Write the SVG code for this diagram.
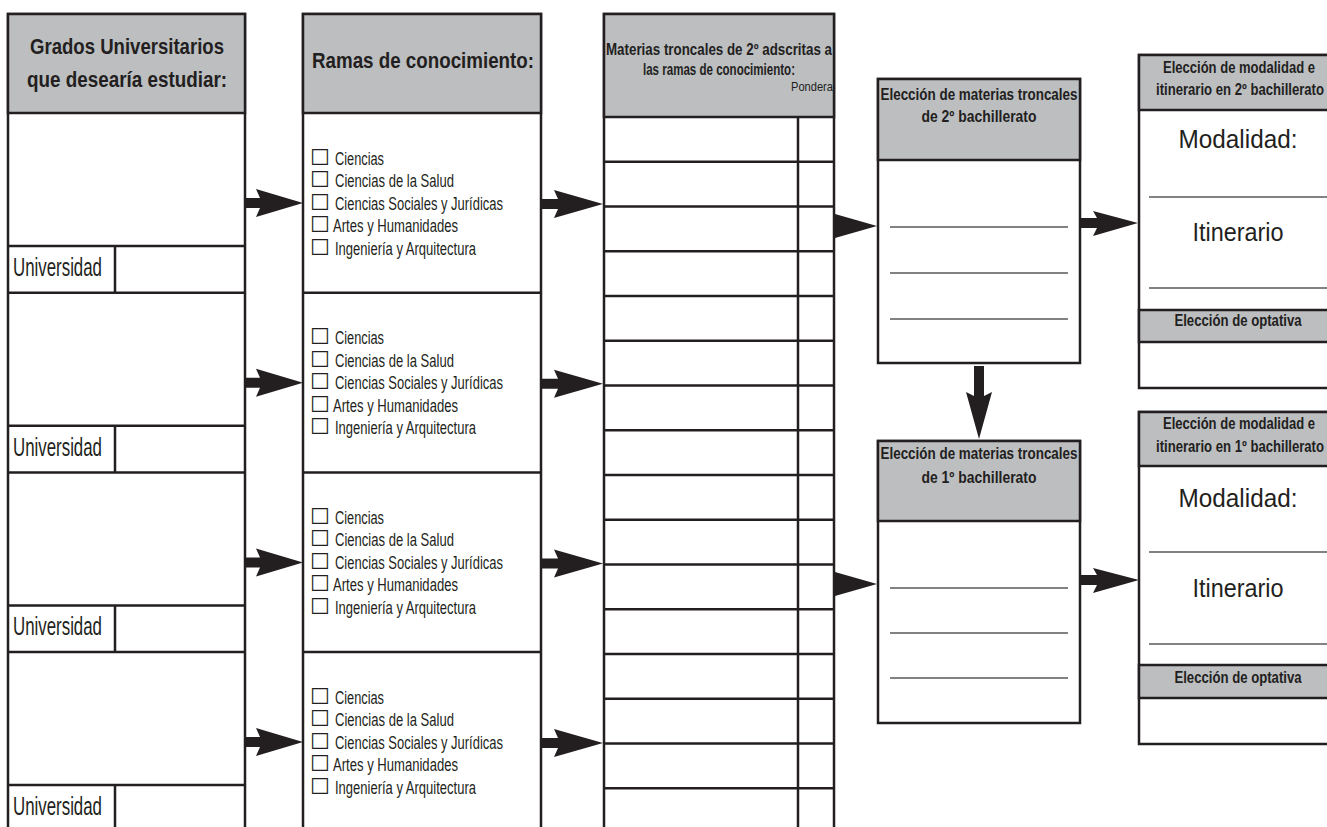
<svg xmlns="http://www.w3.org/2000/svg" width="1327" height="827" viewBox="0 0 1327 827">
<style>
.bx{fill:#fff;stroke:#231f20;stroke-width:2.5}
.hd{fill:#bcbec0;stroke:#231f20;stroke-width:2.5}
.ln{stroke:#231f20;stroke-width:2.5;fill:none}
.bl{stroke:#58595b;stroke-width:1.6;fill:none}
.hb{font-family:"Liberation Sans Narrow","Liberation Sans",Arial,sans-serif;font-weight:bold;fill:#231f20}
.nr{font-family:"Liberation Sans Narrow","Liberation Sans",Arial,sans-serif;fill:#231f20}
.rg{font-family:"Liberation Sans",Arial,sans-serif;fill:#231f20;font-size:25px;text-anchor:middle}
.opt{font-family:"Liberation Sans Narrow","Liberation Sans",Arial,sans-serif;fill:#231f20;font-size:17.5px}
.cb{font-family:"DejaVu Sans",sans-serif;font-size:22px}
.sp{font-size:5px}
.ar{fill:#231f20}
</style>
<rect width="1327" height="827" fill="#fff"/>

<g id="grados">
<rect class="bx" x="8" y="14" width="237" height="840"/>
<rect class="hd" x="8" y="14" width="237" height="99"/>
<text class="hb" x="127" y="54" font-size="22" text-anchor="middle" textLength="194" lengthAdjust="spacingAndGlyphs">Grados Universitarios</text>
<text class="hb" x="127" y="87" font-size="22" text-anchor="middle" textLength="200" lengthAdjust="spacingAndGlyphs">que desearía estudiar:</text>
<path class="ln" d="M8 246H245M8 292.7H245M115 246V292.7M8 425.7H245M8 472.4H245M115 425.7V472.4M8 605.4H245M8 652.1H245M115 605.4V652.1M8 785.1H245M115 785.1V840"/>
<text class="nr" x="13" y="276" font-size="25" textLength="89" lengthAdjust="spacingAndGlyphs">Universidad</text>
<text class="nr" x="13" y="455.7" font-size="25" textLength="89" lengthAdjust="spacingAndGlyphs">Universidad</text>
<text class="nr" x="13" y="635.4" font-size="25" textLength="89" lengthAdjust="spacingAndGlyphs">Universidad</text>
<text class="nr" x="13" y="815.1" font-size="25" textLength="89" lengthAdjust="spacingAndGlyphs">Universidad</text>
</g>

<g id="ramas">
<rect class="bx" x="303" y="14" width="238" height="840"/>
<rect class="hd" x="303" y="14" width="238" height="99"/>
<text class="hb" x="423" y="68" font-size="22" text-anchor="middle" textLength="222" lengthAdjust="spacingAndGlyphs">Ramas de conocimiento:</text>
<path class="ln" d="M303 292.7H541M303 472.4H541M303 652.1H541"/>
<g id="ramas-1">
<text class="opt" y="164.5"><tspan class="cb" x="310">☐</tspan><tspan class="sp"> </tspan><tspan x="335" textLength="49" lengthAdjust="spacingAndGlyphs">Ciencias</tspan></text>
<text class="opt" y="187"><tspan class="cb" x="310">☐</tspan><tspan class="sp"> </tspan><tspan x="335" textLength="119" lengthAdjust="spacingAndGlyphs">Ciencias de la Salud</tspan></text>
<text class="opt" y="209.5"><tspan class="cb" x="310">☐</tspan><tspan class="sp"> </tspan><tspan x="335" textLength="168" lengthAdjust="spacingAndGlyphs">Ciencias Sociales y Jurídicas</tspan></text>
<text class="opt" y="232"><tspan class="cb" x="310">☐</tspan><tspan class="sp"> </tspan><tspan x="333" textLength="125" lengthAdjust="spacingAndGlyphs">Artes y Humanidades</tspan></text>
<text class="opt" y="254.5"><tspan class="cb" x="310">☐</tspan><tspan class="sp"> </tspan><tspan x="335" textLength="141" lengthAdjust="spacingAndGlyphs">Ingeniería y Arquitectura</tspan></text>
</g>
<g id="ramas-2" transform="translate(0 179.7)">
<text class="opt" y="164.5"><tspan class="cb" x="310">☐</tspan><tspan class="sp"> </tspan><tspan x="335" textLength="49" lengthAdjust="spacingAndGlyphs">Ciencias</tspan></text>
<text class="opt" y="187"><tspan class="cb" x="310">☐</tspan><tspan class="sp"> </tspan><tspan x="335" textLength="119" lengthAdjust="spacingAndGlyphs">Ciencias de la Salud</tspan></text>
<text class="opt" y="209.5"><tspan class="cb" x="310">☐</tspan><tspan class="sp"> </tspan><tspan x="335" textLength="168" lengthAdjust="spacingAndGlyphs">Ciencias Sociales y Jurídicas</tspan></text>
<text class="opt" y="232"><tspan class="cb" x="310">☐</tspan><tspan class="sp"> </tspan><tspan x="333" textLength="125" lengthAdjust="spacingAndGlyphs">Artes y Humanidades</tspan></text>
<text class="opt" y="254.5"><tspan class="cb" x="310">☐</tspan><tspan class="sp"> </tspan><tspan x="335" textLength="141" lengthAdjust="spacingAndGlyphs">Ingeniería y Arquitectura</tspan></text>
</g>
<g id="ramas-3" transform="translate(0 359.4)">
<text class="opt" y="164.5"><tspan class="cb" x="310">☐</tspan><tspan class="sp"> </tspan><tspan x="335" textLength="49" lengthAdjust="spacingAndGlyphs">Ciencias</tspan></text>
<text class="opt" y="187"><tspan class="cb" x="310">☐</tspan><tspan class="sp"> </tspan><tspan x="335" textLength="119" lengthAdjust="spacingAndGlyphs">Ciencias de la Salud</tspan></text>
<text class="opt" y="209.5"><tspan class="cb" x="310">☐</tspan><tspan class="sp"> </tspan><tspan x="335" textLength="168" lengthAdjust="spacingAndGlyphs">Ciencias Sociales y Jurídicas</tspan></text>
<text class="opt" y="232"><tspan class="cb" x="310">☐</tspan><tspan class="sp"> </tspan><tspan x="333" textLength="125" lengthAdjust="spacingAndGlyphs">Artes y Humanidades</tspan></text>
<text class="opt" y="254.5"><tspan class="cb" x="310">☐</tspan><tspan class="sp"> </tspan><tspan x="335" textLength="141" lengthAdjust="spacingAndGlyphs">Ingeniería y Arquitectura</tspan></text>
</g>
<g id="ramas-4" transform="translate(0 539.1)">
<text class="opt" y="164.5"><tspan class="cb" x="310">☐</tspan><tspan class="sp"> </tspan><tspan x="335" textLength="49" lengthAdjust="spacingAndGlyphs">Ciencias</tspan></text>
<text class="opt" y="187"><tspan class="cb" x="310">☐</tspan><tspan class="sp"> </tspan><tspan x="335" textLength="119" lengthAdjust="spacingAndGlyphs">Ciencias de la Salud</tspan></text>
<text class="opt" y="209.5"><tspan class="cb" x="310">☐</tspan><tspan class="sp"> </tspan><tspan x="335" textLength="168" lengthAdjust="spacingAndGlyphs">Ciencias Sociales y Jurídicas</tspan></text>
<text class="opt" y="232"><tspan class="cb" x="310">☐</tspan><tspan class="sp"> </tspan><tspan x="333" textLength="125" lengthAdjust="spacingAndGlyphs">Artes y Humanidades</tspan></text>
<text class="opt" y="254.5"><tspan class="cb" x="310">☐</tspan><tspan class="sp"> </tspan><tspan x="335" textLength="141" lengthAdjust="spacingAndGlyphs">Ingeniería y Arquitectura</tspan></text>
</g>
</g>

<g id="materias">
<rect class="bx" x="604" y="14" width="230" height="840"/>
<rect class="hd" x="604" y="14" width="230" height="103"/>
<text class="hb" x="719" y="55" font-size="16" text-anchor="middle" textLength="226" lengthAdjust="spacingAndGlyphs">Materias troncales de 2º adscritas a</text>
<text class="hb" x="719" y="75" font-size="16" text-anchor="middle" textLength="152" lengthAdjust="spacingAndGlyphs">las ramas de conocimiento:</text>
<text class="nr" x="833" y="91" font-size="13.5" text-anchor="end" textLength="42" lengthAdjust="spacingAndGlyphs">Pondera</text>
<path class="ln" d="M798 117V840M604 161.75H834M604 206.5H834M604 251.25H834M604 296H834M604 340.75H834M604 385.5H834M604 430.25H834M604 475H834M604 519.75H834M604 564.5H834M604 609.25H834M604 654H834M604 698.75H834M604 743.5H834M604 788.25H834"/>
</g>

<g id="troncales-2">
<rect class="bx" x="878" y="79" width="202" height="284"/>
<rect class="hd" x="878" y="79" width="202" height="81"/>
<text class="hb" x="979" y="100" font-size="16.5" text-anchor="middle" textLength="197" lengthAdjust="spacingAndGlyphs">Elección de materias troncales</text>
<text class="hb" x="979" y="122" font-size="16.5" text-anchor="middle" textLength="115" lengthAdjust="spacingAndGlyphs">de 2º bachillerato</text>
<path class="bl" d="M890 227H1068M890 273H1068M890 319H1068"/>
</g>

<g id="troncales-1">
<rect class="bx" x="878" y="441" width="202" height="282"/>
<rect class="hd" x="878" y="441" width="202" height="80"/>
<text class="hb" x="979" y="459" font-size="16.5" text-anchor="middle" textLength="197" lengthAdjust="spacingAndGlyphs">Elección de materias troncales</text>
<text class="hb" x="979" y="483" font-size="16.5" text-anchor="middle" textLength="115" lengthAdjust="spacingAndGlyphs">de 1º bachillerato</text>
<path class="bl" d="M890 588H1068M890 633H1068M890 678H1068"/>
</g>

<g id="modalidad-2">
<rect class="bx" x="1139" y="55" width="200" height="333"/>
<rect class="hd" x="1139" y="55" width="200" height="55"/>
<text class="hb" transform="translate(1239 73) scale(0.8 1)" font-size="16.5" text-anchor="middle" textLength="190" lengthAdjust="spacingAndGlyphs">Elección de modalidad e</text>
<text class="hb" transform="translate(1240 95) scale(0.8 1)" font-size="16.5" text-anchor="middle" textLength="210" lengthAdjust="spacingAndGlyphs">itinerario en 2º bachillerato</text>
<text class="rg" x="1238" y="148" textLength="119" lengthAdjust="spacingAndGlyphs">Modalidad:</text>
<text class="rg" x="1238" y="241" textLength="91" lengthAdjust="spacingAndGlyphs">Itinerario</text>
<path class="bl" d="M1149 197H1339M1149 288H1339"/>
<rect class="hd" x="1139" y="310" width="200" height="32"/>
<text class="hb" transform="translate(1238 326) scale(0.8 1)" font-size="16.5" text-anchor="middle" textLength="159" lengthAdjust="spacingAndGlyphs">Elección de optativa</text>
</g>

<g id="modalidad-1">
<rect class="bx" x="1139" y="412" width="200" height="332"/>
<rect class="hd" x="1139" y="412" width="200" height="54"/>
<text class="hb" transform="translate(1239 429) scale(0.8 1)" font-size="16.5" text-anchor="middle" textLength="190" lengthAdjust="spacingAndGlyphs">Elección de modalidad e</text>
<text class="hb" transform="translate(1240 452) scale(0.8 1)" font-size="16.5" text-anchor="middle" textLength="210" lengthAdjust="spacingAndGlyphs">itinerario en 1º bachillerato</text>
<text class="rg" x="1238" y="507" textLength="119" lengthAdjust="spacingAndGlyphs">Modalidad:</text>
<text class="rg" x="1238" y="597" textLength="91" lengthAdjust="spacingAndGlyphs">Itinerario</text>
<path class="bl" d="M1149 552H1339M1149 644H1339"/>
<rect class="hd" x="1139" y="665" width="200" height="33"/>
<text class="hb" transform="translate(1238 683) scale(0.8 1)" font-size="16.5" text-anchor="middle" textLength="159" lengthAdjust="spacingAndGlyphs">Elección de optativa</text>
</g>

<g id="connectors" class="ar">
<polygon points="246,198 260,198 256,189 303,203 256,217 260,208 246,208"/>
<polygon points="246,377.7 260,377.7 256,368.7 303,382.7 256,396.7 260,387.7 246,387.7"/>
<polygon points="246,557.4 260,557.4 256,548.4 303,562.4 256,576.4 260,567.4 246,567.4"/>
<polygon points="246,737.1 260,737.1 256,728.1 303,742.1 256,756.1 260,747.1 246,747.1"/>
<polygon points="542,199 558,199 554,190 603,204 554,218 558,209 542,209"/>
<polygon points="542,378.7 558,378.7 554,369.7 603,383.7 554,397.7 558,388.7 542,388.7"/>
<polygon points="542,558.4 558,558.4 554,549.4 603,563.4 554,577.4 558,568.4 542,568.4"/>
<polygon points="542,738.1 558,738.1 554,729.1 603,743.1 554,757.1 558,748.1 542,748.1"/>
<polygon points="835,214 877,226 835,238"/>
<polygon points="835,572 877,584 835,596"/>
<polygon points="1081,218 1097,218 1093,211 1138,223 1093,236 1097,228 1081,228"/>
<polygon points="1081,575 1097,575 1093,568 1139,580 1093,593 1097,585 1081,585"/>
<polygon points="974,366 984,366 984,396 992,392 979,439 966,392 974,396"/>
</g>
</svg>
